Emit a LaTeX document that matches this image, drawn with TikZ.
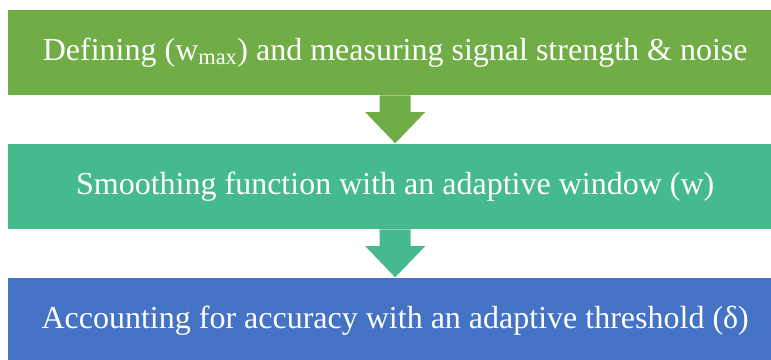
\documentclass[tikz,border=0pt]{standalone}
\usepackage{fontspec}
\setmainfont{Liberation Serif}
\usetikzlibrary{calc}
\definecolor{stepgreen}{HTML}{70AD47}
\definecolor{stepteal}{HTML}{45BA8D}
\definecolor{stepblue}{HTML}{4472C4}
\tikzset{
  stagebox/.style={draw=none, minimum width=774pt, minimum height=85pt,
    anchor=north west, inner sep=0pt, text=white,
    font=\fontsize{32}{38}\selectfont}
}
\begin{document}
\begin{tikzpicture}[x=1pt,y=-1pt]
  \useasboundingbox (0,0) rectangle (771,359);
  \clip (0,0) rectangle (771,359);
  % three stages
  \node[stagebox, fill=stepgreen] (s1) at (8,10)
    {Defining (w\textsubscript{max}) and measuring signal strength \& noise};
  \node[stagebox, fill=stepteal] (s2) at (8,144)
    {Smoothing function with an adaptive window (w)};
  \node[stagebox, fill=stepblue] (s3) at (8,278)
    {Accounting for accuracy with an adaptive threshold (δ)};
  % block arrows between the stages
  \foreach \a/\b/\c in {s1/s2/stepgreen, s2/s3/stepteal}{
    \fill[\c]
      ($(\a.south)+(-15.5,0)$) -- ($(\a.south)+(15.5,0)$)
      -- ($(\a.south)+(15.5,16.7)$) -- ($(\a.south)+(30,16.7)$)
      -- ($(\b.north)+(0,-0.7)$)
      -- ($(\a.south)+(-30,16.7)$) -- ($(\a.south)+(-15.5,16.7)$) -- cycle;
  }
\end{tikzpicture}
\end{document}
